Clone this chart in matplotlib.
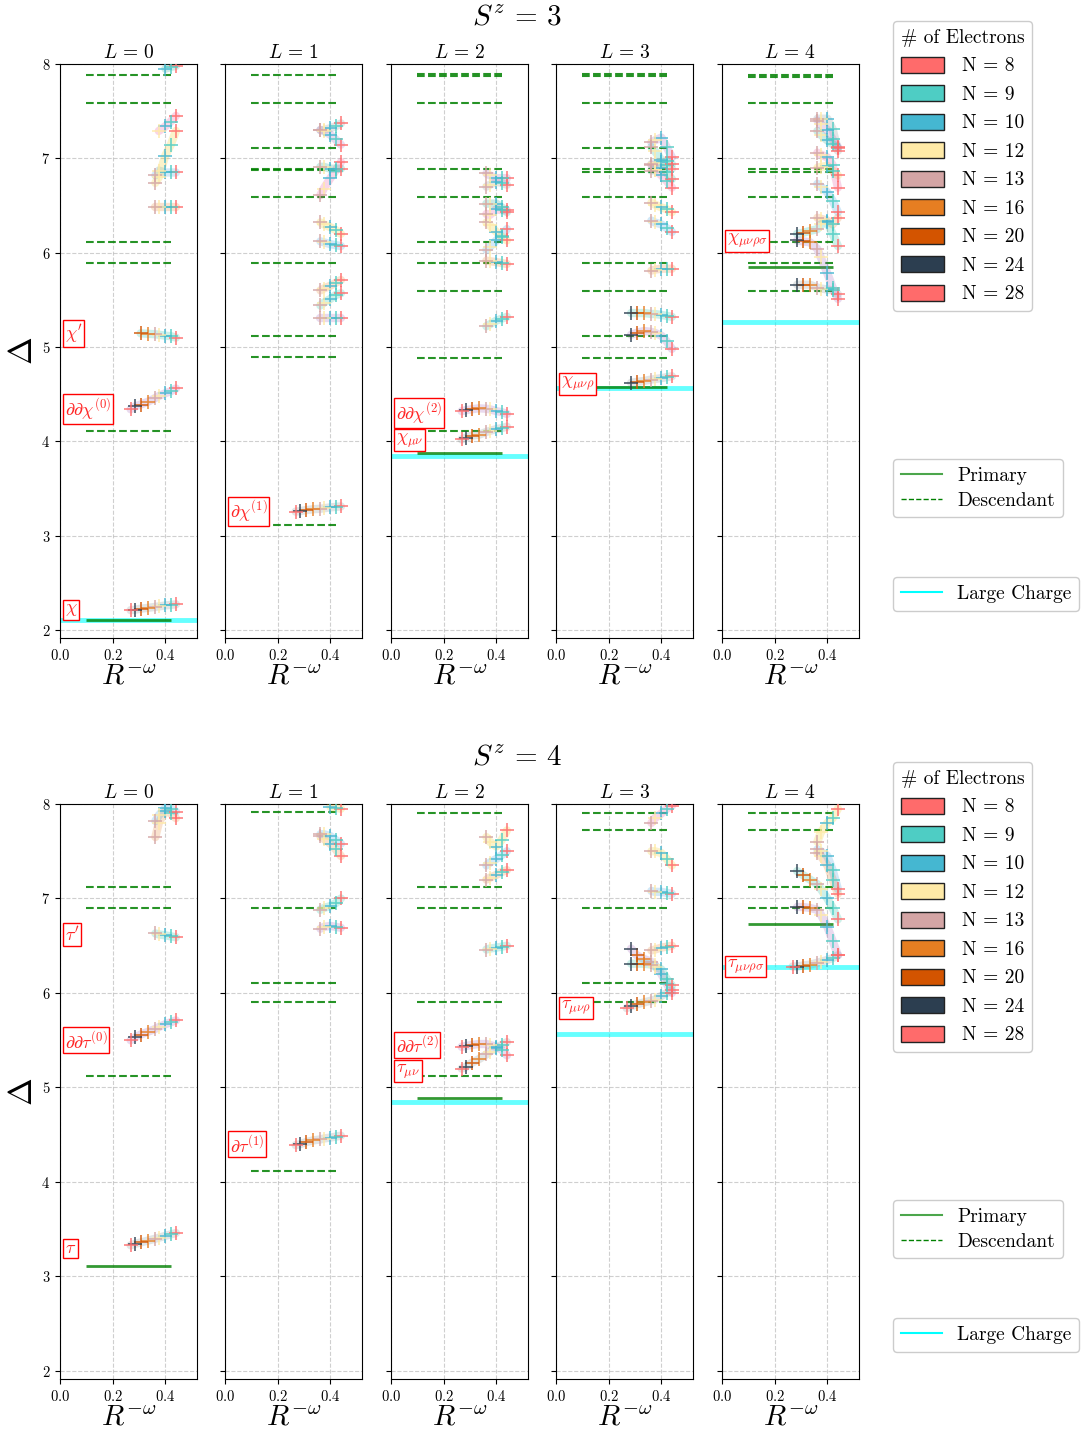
import matplotlib
matplotlib.use('Agg')
import matplotlib.pyplot as plt
from matplotlib.patches import Patch
from matplotlib.lines import Line2D

plt.rcParams['font.family'] = 'serif'
plt.rcParams['font.serif'] = ['cmr10', 'DejaVu Serif']
plt.rcParams['mathtext.fontset'] = 'cm'
plt.rcParams['axes.formatter.use_mathtext'] = True

# ---------------- data ----------------
N_values = [8, 9, 10, 12, 13, 16, 20, 24, 28]
N_colors = ['#ff6b6b', '#4ecdc4', '#45b7d1', '#ffeaa7', '#d4a5a5',
            '#e67e22', '#d35400', '#2c3e50', '#ff6b6b']
# R^{-omega} read for each N
x_values = [0.44, 0.42, 0.40, 0.375, 0.362, 0.334, 0.306, 0.285, 0.268]
track_palette = ['#7f8c8d', '#9b59b6', '#1abc9c', '#e67e22', '#3498db',
                 '#f1c40f', '#e84393', '#16a085']

L_values = [0, 1, 2, 3, 4]
Sz_values = [3, 4]

# ---- S^z = 3 ----
primary_s3 = [[2.11], [], [3.88], [4.58], [5.85]]
desc_s3 = [
    [4.11, 5.887, 6.11, 7.587, 7.887],
    [3.11, 4.89, 5.113, 5.887, 6.587, 6.875, 6.887, 7.11, 7.587, 7.887],
    [4.11, 4.88, 5.59, 5.887, 6.11, 6.587, 6.887, 7.587, 7.87, 7.89],
    [4.88, 5.117, 5.59, 5.887, 6.587, 6.86, 6.887, 7.11, 7.587, 7.87, 7.89],
    [5.59, 5.887, 6.11, 6.587, 6.85, 6.887, 7.587, 7.866, 7.887],
]
large_s3 = [2.11, None, 3.84, 4.56, 5.27]
labels_s3 = [
    [(r'$\chi$', 2.21), (r'$\partial\partial\chi^{(0)}$', 4.34), (r"$\chi'$", 5.145)],
    [(r'$\partial\chi^{(1)}$', 3.256)],
    [(r'$\chi_{\mu\nu}$', 4.01), (r'$\partial\partial\chi^{(2)}$', 4.30)],
    [(r'$\chi_{\mu\nu\rho}$', 4.61)],
    [(r'$\chi_{\mu\nu\rho\sigma}$', 6.12)],
]
tracks_s3_L0 = [
    [2.272, 2.266, 2.26, 2.25, 2.245, 2.235, 2.225, 2.215, 2.21],
    [4.56, 4.53, 4.51, 4.48, 4.46, 4.42, 4.39, 4.37, 4.34],
    [5.10, 5.115, 5.12, 5.13, 5.135, 5.14, 5.145],
    [6.48, 6.48, 6.48, 6.48, 6.48],
    [6.85, 6.85, 6.85, 6.87, 6.82],
    [7.29, 7.14, 7.03, 6.80, 6.74],
    [7.45, 7.39, 7.34, 7.29],
    [7.98, 7.97, 7.95],
]
tracks_s3_L1 = [
    [3.31, 3.305, 3.30, 3.29, 3.285, 3.28, 3.27, 3.26, 3.255],
    [5.31, 5.31, 5.31, 5.31, 5.31],
    [5.57, 5.55, 5.51, 5.47, 5.44],
    [5.71, 5.68, 5.65, 5.62, 5.60],
    [6.07, 6.08, 6.09, 6.11, 6.12],
    [6.20, 6.24, 6.27, 6.30, 6.32],
    [6.96, 6.87, 6.79, 6.68, 6.61],
    [6.89, 6.89, 6.89, 6.91, 6.91],
    [7.37, 7.34, 7.32, 7.30, 7.30],
    [7.145, 7.20, 7.25, 7.29, 7.30],
]
tracks_s3_L2 = [
    [4.155, 4.14, 4.13, 4.11, 4.10, 4.07, 4.06, 4.04, 4.02],
    [4.29, 4.31, 4.32, 4.34, 4.345, 4.35, 4.34, 4.33, 4.32],
    [5.32, 5.30, 5.28, 5.24, 5.22],
    [5.88, 5.89, 5.90, 5.91, 5.915],
    [6.25, 6.18, 6.13, 6.06, 6.03],
    [6.13, 6.17, 6.22, 6.29, 6.32],
    [6.45, 6.45, 6.46, 6.40, 6.41],
    [6.43, 6.48, 6.52, 6.52, 6.52],
    [6.72, 6.74, 6.75, 6.72, 6.70],
    [6.79, 6.79, 6.79, 6.82, 6.84],
]
tracks_s3_L3 = [
    [4.69, 4.68, 4.67, 4.66, 4.655, 4.64, 4.63, 4.62],
    [4.98, 5.06, 5.12, 5.15, 5.16, 5.17, 5.15, 5.13],
    [5.32, 5.33, 5.34, 5.35, 5.35, 5.36, 5.36, 5.36],
    [5.83, 5.83, 5.83, 5.82, 5.81],
    [6.22, 6.26, 6.30, 6.32, 6.34],
    [6.43, 6.46, 6.48, 6.51, 6.53],
    [6.69, 6.76, 6.82, 6.88, 6.93],
    [6.78, 6.85, 6.90, 6.88, 6.87],
    [6.89, 6.93, 6.96, 6.95, 6.94],
    [7.01, 7.12, 7.22, 7.19, 7.17],
    [6.94, 6.97, 6.98, 7.08, 7.12],
]
tracks_s3_L4 = [
    [5.56, 5.60, 5.61, 5.62, 5.63, 5.66, 5.66, 5.66],
    [5.51, 5.63, 5.78, 5.95, 6.04, 6.11, 6.12, 6.13],
    [6.07, 6.20, 6.32, 6.30, 6.25, 6.23, 6.21, 6.20],
    [6.37, 6.30, 6.34, 6.36, 6.37],
    [6.43, 6.55, 6.64, 6.70, 6.73],
    [6.82, 6.87, 6.92, 6.91, 6.90],
    [6.69, 6.93, 7.01, 7.04, 7.06],
    [7.11, 7.15, 7.19, 7.25, 7.29],
    [7.08, 7.31, 7.42, 7.42, 7.42],
    [7.12, 7.20, 7.30, 7.36, 7.40],
]

# ---- S^z = 4 ----
primary_s4 = [[3.11], [], [4.89], [], [6.73]]
desc_s4 = [
    [5.12, 6.90, 7.12],
    [4.12, 5.90, 6.11, 6.90, 7.915],
    [5.12, 5.90, 6.90, 7.12, 7.91],
    [5.90, 6.11, 6.90, 7.72, 7.91],
    [6.90, 7.12, 7.72, 7.91],
]
large_s4 = [None, None, 4.85, 5.57, 6.28]
labels_s4 = [
    [(r'$\tau$', 3.30), (r'$\partial\partial\tau^{(0)}$', 5.50), (r"$\tau'$", 6.62)],
    [(r'$\partial\tau^{(1)}$', 4.40)],
    [(r'$\tau_{\mu\nu}$', 5.17), (r'$\partial\partial\tau^{(2)}$', 5.45)],
    [(r'$\tau_{\mu\nu\rho}$', 5.84)],
    [(r'$\tau_{\mu\nu\rho\sigma}$', 6.28)],
]
tracks_s4_L0 = [
    [3.46, 3.445, 3.43, 3.41, 3.40, 3.38, 3.36, 3.345, 3.33],
    [5.71, 5.69, 5.67, 5.64, 5.62, 5.59, 5.56, 5.53, 5.50],
    [6.59, 6.60, 6.61, 6.62, 6.63],
    [7.85, 7.90, 7.93, 7.80, 7.65],
    [7.92, 7.95, 7.96, 7.88, 7.82],
]
tracks_s4_L1 = [
    [4.49, 4.48, 4.47, 4.46, 4.45, 4.44, 4.42, 4.40, 4.39],
    [6.69, 6.70, 6.71, 6.70, 6.68],
    [7.00, 6.95, 6.92, 6.90, 6.88],
    [7.45, 7.52, 7.58, 7.63, 7.66],
    [7.58, 7.62, 7.66, 7.68, 7.68],
    [7.95, 7.96, 7.97],
]
tracks_s4_L2 = [
    [5.48, 5.45, 5.42, 5.38, 5.35, 5.30, 5.26, 5.22, 5.20],
    [5.34, 5.40, 5.43, 5.45, 5.46, 5.46, 5.45, 5.44, 5.43],
    [6.50, 6.49, 6.48, 6.47, 6.46],
    [7.30, 7.28, 7.25, 7.22, 7.20],
    [7.50, 7.46, 7.42, 7.38, 7.35],
    [7.72, 7.62, 7.55, 7.60, 7.65],
]
tracks_s4_L3 = [
    [6.03, 6.00, 5.97, 5.93, 5.92, 5.90, 5.88, 5.86, 5.84],
    [6.00, 6.10, 6.20, 6.30, 6.33, 6.36, 6.40, 6.47],
    [6.08, 6.15, 6.25, 6.28, 6.30, 6.31, 6.31, 6.31],
    [6.50, 6.49, 6.48, 6.46, 6.45],
    [7.05, 7.06, 7.07, 7.07, 7.08],
    [7.35, 7.42, 7.48, 7.50, 7.50],
    [7.98, 7.95, 7.90, 7.85, 7.80],
]
tracks_s4_L4 = [
    [6.40, 6.37, 6.35, 6.33, 6.32, 6.30, 6.29, 6.28, 6.28],
    [6.40, 6.55, 6.70, 6.83, 6.88, 6.90, 6.91, 6.91],
    [6.78, 6.90, 7.00, 7.10, 7.15, 7.20, 7.25, 7.29],
    [7.05, 7.20, 7.35, 7.45, 7.48],
    [7.10, 7.30, 7.45, 7.50, 7.52],
    [7.95, 7.85, 7.80, 7.70, 7.60],
]

tracks_s3 = [tracks_s3_L0, tracks_s3_L1, tracks_s3_L2, tracks_s3_L3, tracks_s3_L4]
tracks_s4 = [tracks_s4_L0, tracks_s4_L1, tracks_s4_L2, tracks_s4_L3, tracks_s4_L4]

# ---------------- layout ----------------
W, H = 1092, 1436
fig = plt.figure(figsize=(W / 100, H / 100), dpi=100)
col_left_px = [60, 225, 391, 556, 722]
ax_w_px = 137
rows = [(64, 638), (804, 1379)]

def draw_panel(ax, L, prim, desc, large, labels, tracks, first):
    ax.set_xlim(0, 0.52)
    ax.set_ylim(1.915, 8.0)
    ax.grid(True, ls='--', color='#b0b0b0', alpha=0.6, lw=0.8)
    ax.set_axisbelow(True)
    if large is not None:
        ax.axhline(large, color='cyan', lw=3.5, alpha=0.6, zorder=1)
    for y in desc:
        ax.hlines(y, 0.1, 0.42, colors='green', linestyles='--', lw=1.5, alpha=0.85, zorder=2)
    for y in prim:
        ax.hlines(y, 0.1, 0.42, colors='green', linestyles='-', lw=2.0, alpha=0.8, zorder=2)
    for k, tr in enumerate(tracks):
        xs = x_values[:len(tr)]
        ax.plot(xs, tr, color=track_palette[k % len(track_palette)], lw=6,
                alpha=0.22, solid_capstyle='round', zorder=3)
        for i, (xv, yv) in enumerate(zip(xs, tr)):
            ax.plot([xv], [yv], ls='none', marker='+', ms=9.5, mew=1.2,
                    color=N_colors[i], alpha=0.85, zorder=4)
    for txt, y in labels:
        ax.text(0.018, y, txt, color='red', fontsize=13, ha='left', va='center', alpha=0.85,
                zorder=6, bbox=dict(facecolor='white', edgecolor='red', boxstyle='square,pad=0.1', lw=1.0))
    ax.set_title(r'$L \,=\, %d$' % L, fontsize=14, pad=4)
    ax.set_xlabel(r'$R^{-\omega}$', fontsize=21, labelpad=1)
    ax.set_xticks([0.0, 0.2, 0.4])
    ax.set_yticks([2, 3, 4, 5, 6, 7, 8])
    ax.tick_params(labelsize=10.5)
    if first:
        ax.set_ylabel(r'$\Delta$', fontsize=24, labelpad=2)
    else:
        ax.set_yticklabels([])

all_prim = [primary_s3, primary_s4]
all_desc = [desc_s3, desc_s4]
all_large = [large_s3, large_s4]
all_labels = [labels_s3, labels_s4]
all_tracks = [tracks_s3, tracks_s4]

for r, (top_px, bot_px) in enumerate(rows):
    for c, L in enumerate(L_values):
        ax = fig.add_axes([col_left_px[c] / W, 1 - bot_px / H, ax_w_px / W, (bot_px - top_px) / H])
        draw_panel(ax, L, all_prim[r][c], all_desc[r][c], all_large[r][c],
                   all_labels[r][c], all_tracks[r][c], c == 0)

# titles
fig.text(517 / W, 1 - 17 / H, r'$S^z \,=\, %d$' % Sz_values[0], fontsize=21, ha='center', va='center')
fig.text(517 / W, 1 - 757 / H, r'$S^z \,=\, %d$' % Sz_values[1], fontsize=21, ha='center', va='center')

# legends
n_handles = [Patch(facecolor=col, edgecolor='#222222', lw=1.0) for col in N_colors]
n_labels = ['N = %d' % n for n in N_values]
pd_handles = [Line2D([], [], color='green', lw=1.5, alpha=0.7),
              Line2D([], [], color='green', lw=1.0, ls='--')]
lc_handles = [Line2D([], [], color='cyan', lw=1.5)]

for top_n, top_pd, top_lc in [(21, 459, 577), (762, 1200, 1318)]:
    fig.legend(n_handles, n_labels, title='# of Electrons', loc='upper left',
               bbox_to_anchor=(893 / W, 1 - top_n / H), fontsize=14, title_fontsize=14,
               handlelength=2.2, handleheight=0.9, labelspacing=0.5, borderpad=0.4,
               handletextpad=0.9, framealpha=1.0, edgecolor='#cccccc', fancybox=True,
               borderaxespad=0)
    fig.legend(pd_handles, ['Primary', 'Descendant'], loc='upper left',
               bbox_to_anchor=(893 / W, 1 - top_pd / H), fontsize=14, handlelength=2.1,
               framealpha=1.0, edgecolor='#cccccc', borderaxespad=0, labelspacing=0.35)
    fig.legend(lc_handles, ['Large Charge'], loc='upper left',
               bbox_to_anchor=(893 / W, 1 - top_lc / H), fontsize=14, handlelength=2.1,
               framealpha=1.0, edgecolor='#cccccc', borderaxespad=0)

fig.savefig('out.png', dpi=100)
